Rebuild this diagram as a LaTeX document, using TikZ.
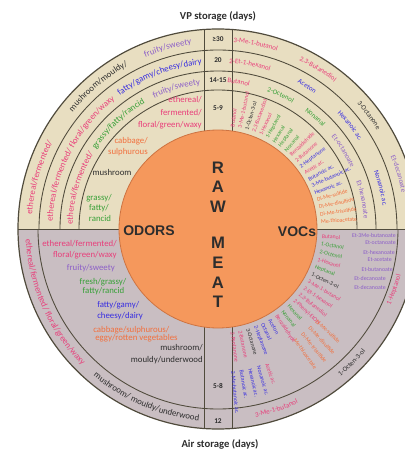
\documentclass[tikz,border=0pt]{standalone}
\usepackage{fontspec}
\setmainfont{Carlito}
\newfontfamily\boldsans{Liberation Sans}
\usetikzlibrary{decorations.text}

\definecolor{ringtop}{RGB}{232,222,193}
\definecolor{ringbot}{RGB}{201,190,194}
\definecolor{meat}{RGB}{245,152,92}
\definecolor{meatedge}{RGB}{205,115,65}
\definecolor{rim}{RGB}{80,75,60}
\definecolor{cpink}{RGB}{232,62,122}
\definecolor{cpurple}{RGB}{140,95,200}
\definecolor{cblue}{RGB}{55,45,225}
\definecolor{cgreen}{RGB}{55,160,55}
\definecolor{corange}{RGB}{242,112,62}
\definecolor{cdark}{RGB}{45,45,45}

\tikzset{
  ring/.style={draw=rim, line width=0.65pt},
  odor/.style={font=\fontsize{6.6}{8}\selectfont, inner sep=0pt},
  voc/.style={font=\fontsize{4.3}{5}\selectfont, inner sep=0pt},
  ester/.style={font=\fontsize{4.4}{5}\selectfont, inner sep=0pt, text=cpurple, anchor=east},
  days/.style={font=\bfseries\fontsize{5.5}{6}\selectfont, text=cdark, inner sep=0pt},
  title/.style={font=\bfseries\fontsize{8}{9}\selectfont, text=cdark},
  meatlbl/.style={font=\boldsans\bfseries\fontsize{12.5}{13}\selectfont, text=cdark, inner sep=0pt},
  side/.style={font=\boldsans\bfseries\fontsize{10.5}{11}\selectfont, text=cdark, inner sep=0pt},
}

% curved label: radius, from, to, colour, size, text
\newcommand\ringtext[6]{%
  \path[decorate, decoration={text along path, text align=center, text color=#4,
      text={|\fontsize{#5}{#5}\selectfont|#6}}]
    (#2:#1) arc[start angle=#2, end angle=#3, radius=#1];}

\begin{document}
\begin{tikzpicture}[x=0.75pt, y=0.75pt]
    \useasboundingbox (-218,-222) rectangle (187,229);
    \clip (-218,-222) rectangle (187,229);

    % Ring backgrounds
    \fill[ringtop] (200,0) arc[start angle=0, end angle=180, radius=200]
        -- (-99,0) arc[start angle=180, end angle=0, radius=99] -- cycle;
    \fill[ringbot] (200,0) arc[start angle=0, end angle=-180, radius=200]
        -- (-99,0) arc[start angle=180, end angle=360, radius=99] -- cycle;

    % Ring lines
    \foreach \r in {139,158,179}
        \draw[ring] (\r,0) arc[start angle=0, end angle=180, radius=\r];
    \draw[ring] (-180,0) arc[start angle=180, end angle=360, radius=180];
    \draw[ring] (-200,0) -- (-99,0) (99,0) -- (200,0);
    \draw[ring] (-14,98) -- (-14,199.5) (14,98) -- (14,199.5);
    \draw[ring] (-14,-98) -- (-14,-199.5) (14,-98) -- (14,-199.5);
    \draw[ring, line width=0.9pt] (0,0) circle[radius=200];

    % Raw meat core
    \fill[meat, draw=meatedge, line width=0.6pt] (0,0) circle[radius=99];
    \foreach \y/\l [count=\i] in {61/R, 42/A, 22/W, -14/M, -34/E, -54/A, -73/T}
        \node[meatlbl] (m\i) at (0,\y) {\l};
    \node[side] (odors) at (-69,-2) {ODORS};
    \node[side] (vocs) at (79,-3) {VOCs};

    % Titles
    \node[title] (vp) at (0,213) {VP storage (days)};
    \node[title] (air) at (2,-215) {Air storage (days)};

    % Days column
    \foreach \y/\d [count=\i] in {190/≥30, 169/20, 149/14-15, 121/5-9, -157/5-8, -192/12}
        \node[days] (d\i) at (0,\y) {\d};

    % Odors, VP storage
    \ringtext{186.5}{125.5}{85.5}{cpurple}{6.6}{fruity/sweety}
    \ringtext{186.5}{150}{110}{cdark}{6.6}{mushroom/mouldy/}
    \ringtext{186.5}{194}{134}{cpink}{6.6}{ethereal/fermented/}
    \ringtext{165.5}{131}{91}{cblue}{6.6}{fatty/gamy/cheesy/dairy}
    \ringtext{165.5}{188}{118}{cpink}{6.6}{ethereal/fermented/ floral/green/waxy}
    \ringtext{145.5}{126.5}{86.5}{cpurple}{6.6}{fruity/sweety}
    \ringtext{145.5}{153.5}{113.5}{cgreen}{6.6}{grassy/fatty/rancid}
    \ringtext{145.5}{193.5}{133.5}{cpink}{6.6}{ethereal/fermented/}

    \node[odor, text=cpink, anchor=east] (o1) at (-16,129) {ethereal/};
    \node[odor, text=cpink, anchor=east] (o2) at (-16,116) {fermented/};
    \node[odor, text=cpink, anchor=east] (o3) at (-16,104) {floral/green/waxy};
    \node[odor, text=corange, anchor=east] (o4) at (-70,88) {cabbage/};
    \node[odor, text=corange, anchor=east] (o5) at (-70,77) {sulphurous};
    \node[odor, text=cdark] (o6) at (-106,57) {mushroom};
    \node[odor, text=cgreen] (o7) at (-119,31) {grassy/};
    \node[odor, text=cgreen] (o8) at (-119,21) {fatty/};
    \node[odor, text=cgreen] (o9) at (-118,11) {rancid};

    % Odors, air storage
    \ringtext{192.5}{170}{238}{cpink}{6.6}{ethereal/fermented/ floral/green/waxy}
    \ringtext{192.5}{222}{272}{cdark}{6.6}{mushroom/ mouldy/underwood}

    \node[odor, text=cpink, anchor=east] (a1) at (-101,-14.5) {ethereal/fermented/};
    \node[odor, text=cpink, anchor=east] (a2) at (-101,-26) {floral/green/waxy};
    \node[odor, text=cpurple, anchor=east] (a3) at (-103,-39) {fruity/sweety};
    \node[odor, text=cgreen] (a4) at (-115,-53) {fresh/grassy/};
    \node[odor, text=cgreen] (a5) at (-114.5,-62) {fatty/rancid};
    \node[odor, text=cblue, anchor=west] (a6) at (-121,-76) {fatty/gamy/};
    \node[odor, text=cblue, anchor=west] (a7) at (-121,-87) {cheesy/dairy};
    \node[odor, text=corange, anchor=west] (a8) at (-125,-101) {cabbage/sulphurous/};
    \node[odor, text=corange, anchor=west] (a9) at (-123,-109) {eggy/rotten vegetables};
    \node[odor, text=cdark, anchor=east] (a10) at (-15,-119) {mushroom/};
    \node[odor, text=cdark, anchor=east] (a11) at (-15,-131) {mouldy/underwood};

    % VOCs, VP storage
    \ringtext{187.3}{98.5}{58.5}{cpink}{5.2}{3-Me-1-butanol}
    \ringtext{187.3}{78}{38}{cpink}{5.2}{2{,}3-Butanediol}
    \ringtext{187.3}{57}{17}{cdark}{5.2}{3-Octanone}
    \ringtext{187.3}{37}{-3}{cpurple}{5.2}{Et-decanoate}
    \ringtext{166.3}{99}{59}{cpink}{5.2}{2-Et-1-hexanol}
    \ringtext{166.3}{78}{38}{cblue}{5.2}{Aceton}
    \ringtext{166.3}{58}{18}{cblue}{5.2}{Hexanoic ac.}
    \ringtext{166.3}{34}{-6}{cblue}{5.2}{Nonanoic ac.}
    \ringtext{146.3}{102}{62}{cpink}{5.2}{Butanol}
    \ringtext{146.3}{85}{45}{cgreen}{5.2}{2-Octenol}
    \ringtext{146.3}{69}{29}{cgreen}{5.2}{Nonanal}
    \ringtext{146.3}{52}{12}{cpurple}{5.2}{Et-octanoate}
    \ringtext{146.3}{31.5}{-8.5}{cpurple}{5.2}{Et-hexanoate}

    \foreach \a/\c/\t [count=\i] in {82/cpink/Butanol, 77.9/cpink/3-Me-1-butanol,
        73.8/cdark/1-Octen-3-ol, 69.7/cpink/2{,}3-Butanediol, 65.6/cpink/1-Hexanol,
        61.5/cgreen/1-Heptanol, 57.4/cgreen/Hexanal, 53.3/cgreen/Heptanal,
        49.2/cgreen/Nonanal, 45.1/cpink/Benzaldehyde, 41/cpink/2-Butanone,
        36.9/cblue/2-Heptanone, 32.8/cpink/Acetic ac., 28.7/cblue/Butanoic ac.,
        24.6/cblue/3-Me-butanoic ac., 20.5/cblue/Hexanoic ac., 16.4/corange/Di-Me-sulfide,
        12.3/corange/Di-Me-disulfide, 8.2/corange/Di-Me-trisulfide, 4.1/corange/Me-thioacetate}
        \node[voc, text=\c, anchor=west, rotate=\a] (vp\i) at (\a:103) {\t};

    % VOCs, air storage
    \ringtext{188.5}{321}{361}{cpink}{5.2}{1-Heptanol}
    \ringtext{191.8}{295}{335}{cdark}{5.2}{1-Octen-3-ol}
    \ringtext{191.8}{268}{308}{cpink}{5.2}{3-Me-1-butanol}

    \foreach \a/\c/\t [count=\i] in {-4/cpink/Butanol, -8.3/cgreen/1-Octanol,
        -12.7/cgreen/2-Octenol, -17/cpink/1-Hexanol, -21.3/cgreen/Heptanal,
        -25.7/cdark/1-Octen-3-ol, -30/cpink/3-Me-1-butanol, -34.3/cpink/2-Et-1-hexanol,
        -38.7/cpink/2{,}3-Butanediol, -43/cpink/2-Phenyl-EtOH, -47.3/cgreen/Hexanal,
        -51.7/cgreen/Nonanal, -56/cpink/Benzaldehyde, -60.3/cblue/Aceton,
        -64.7/cblue/Octanal, -69/cblue/2-Heptanone, -73.3/cdark/3-Octanone,
        -77.7/cpink/2-Butanone, -82/cpink/2-Pentanone}
        \node[voc, text=\c, anchor=west, rotate=\a] (va\i) at (\a:104) {\t};

    \foreach \a/\t [count=\i] in {-43/Di-Me-sulfide, -47/Di-Me-disulfide,
        -51/Di-Me-trisulfide, -55/Me-thioacetate}
        \node[voc, text=corange, anchor=west, rotate=\a] (vs\i) at (\a:134) {\t};

    \foreach \a/\c/\t [count=\i] in {-70/cpink/Acetic ac., -73.5/cblue/Nonanoic ac.,
        -77/cblue/Hexanoic ac., -80.5/cblue/Butanoic ac., -84/cblue/2-Me-butanoic ac.}
        \node[voc, text=\c, anchor=west, rotate=\a] (vc\i) at (\a:143) {\t};

    \foreach \y/\x/\t [count=\i] in {-6/178/Et-3Me-butanoate, -14/178/Et-octanoate,
        -23/177/Et-hexanoate, -31/174/Et-acetate, -40/175/Et-butanoate,
        -49/168/Et-decanoate, -58/168/Et-decanoate}
        \node[ester] (e\i) at (\x,\y) {\t};
\end{tikzpicture}
\end{document}
